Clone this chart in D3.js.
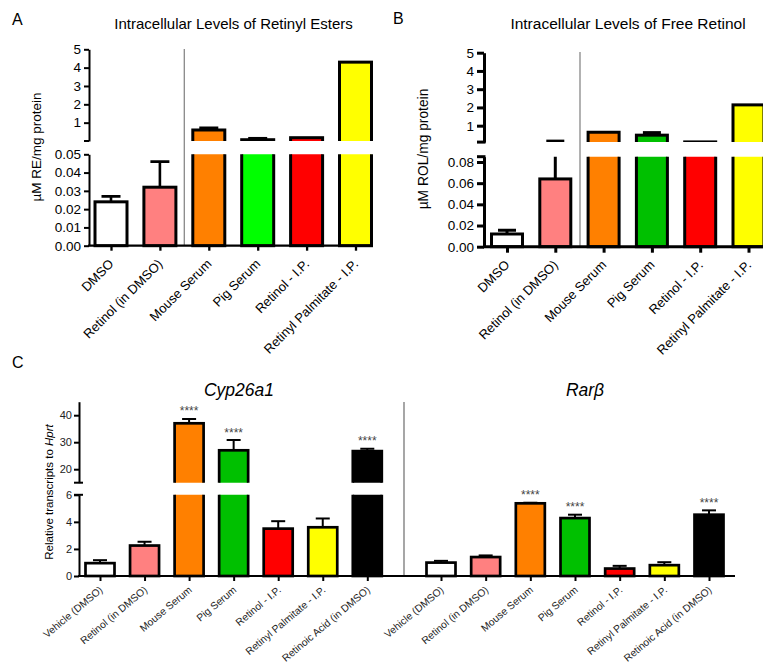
<!DOCTYPE html>
<html><head><meta charset="utf-8">
<script src="https://cdn.jsdelivr.net/npm/d3@7"></script>
<style>body{margin:0;background:#fff}svg{display:block;font-family:"Liberation Sans",Arial,Helvetica,sans-serif}</style>
</head><body><svg id="chart" width="763" height="669"></svg>
<script>
// ---------- data ----------
const catsAB = ["DMSO","Retinol (in DMSO)","Mouse Serum","Pig Serum","Retinol - I.P.","Retinyl Palmitate - I.P."];
const colorsA = ["#ffffff","#ff8080","#ff8000","#00ff00","#ff0000","#ffff00"];
const colorsB = ["#ffffff","#ff8080","#ff8000","#00c000","#ff0000","#ffff00"];
const reMean = [0.024,0.032,0.6,0.07,0.18,4.3];
const reSem  = [0.003,0.014,0.12,0.08,0,0];
const rolMean = [0.012,0.064,0.64,0.48,0.11,2.14];
const rolSem  = [0.0035,0.09,0,0.14,0,0];
const reTicksLo = [0,0.01,0.02,0.03,0.04,0.05];
const reTicksHi = [1,2,3,4,5];
const rolTicksLo = [0,0.02,0.04,0.06,0.08];
const rolTicksHi = [1,2,3,4,5];

const catsC = ["Vehicle (DMSO)","Retinol (in DMSO)","Mouse Serum","Pig Serum","Retinol - I.P.","Retinyl Palmitate - I.P.","Retinoic Acid (in DMSO)"];
const colorsC = ["#ffffff","#ff8080","#ff8000","#00c000","#ff0000","#ffff00","#000000"];
const cypMean = [0.95,2.25,37.0,27.0,3.5,3.6,26.7];
const cypSem  = [0.22,0.28,1.6,3.8,0.55,0.65,0.9];
const cypSig  = ["","","****","****","","","****"];
const rarMean = [0.99,1.4,5.37,4.28,0.55,0.8,4.53];
const rarSem  = [0.13,0.12,0.05,0.25,0.2,0.22,0.32];
const rarSig  = ["","","****","****","","","****"];
const cTicksLo = [0,2,4,6];
const cTicksHi = [20,30,40];

// ---------- helpers ----------
const svg = d3.select("#chart");
const defs = svg.append("defs");
const W = 763, H = 669;

function drawBars(o) {
  defs.append("clipPath").attr("id", o.id+"lo").append("rect")
    .attr("x",0).attr("y",o.yLo(o.lMax)).attr("width",W).attr("height",H);
  const segs = [{y:o.yLo, clip:o.id+"lo", show:()=>true}];
  if (o.yHi) {
    defs.append("clipPath").attr("id", o.id+"hi").append("rect")
      .attr("x",0).attr("y",0).attr("width",W).attr("height",o.hiBottom);
    segs.push({y:o.yHi, clip:o.id+"hi", show:v=>v>o.lMax});
  }
  const data = o.cats.map((c,i)=>({c, v:o.means[i], s:o.sems[i], e:o.means[i]+o.sems[i], col:o.colors[i], sig:o.sig?o.sig[i]:""}));
  segs.forEach(seg=>{
    const sg = svg.append("g").attr("clip-path",`url(#${seg.clip})`);
    const eb = data.filter(d=>d.s>0 && seg.show(d.e));
    sg.selectAll("line.stem").data(eb).join("line")
      .attr("x1",d=>o.x(d.c)).attr("x2",d=>o.x(d.c))
      .attr("y1",d=>seg.y(d.v)).attr("y2",d=>seg.y(d.e))
      .attr("stroke","#000").attr("stroke-width",o.esw);
    sg.selectAll("line.cap").data(eb).join("line")
      .attr("x1",d=>o.x(d.c)-o.capW/2).attr("x2",d=>o.x(d.c)+o.capW/2)
      .attr("y1",d=>seg.y(d.e)).attr("y2",d=>seg.y(d.e))
      .attr("stroke","#000").attr("stroke-width",o.esw);
    sg.selectAll("rect").data(data.filter(d=>seg.show(d.v))).join("rect")
      .attr("x",d=>o.x(d.c)-o.barW/2).attr("width",o.barW)
      .attr("y",d=>seg.y(d.v)).attr("height",d=>Math.max(0,o.axisY-seg.y(d.v)))
      .attr("fill",d=>d.col).attr("stroke","#000").attr("stroke-width",o.sw);
  });
  // significance marks (not clipped)
  const ys = d => (o.yHi && d.e > o.lMax) ? o.yHi(d.e) : o.yLo(d.e);
  svg.append("g").selectAll("text").data(data.filter(d=>d.sig)).join("text")
    .attr("x",d=>o.x(d.c)).attr("y",d=>ys(d)-3.5)
    .attr("text-anchor","middle").attr("font-size",12).attr("fill","#444").text(d=>d.sig);
}

function yAxis(o) {
  const g = svg.append("g").attr("transform",`translate(${o.x},0)`);
  [{s:o.yLo,t:o.tLo},{s:o.yHi,t:o.tHi}].forEach(a=>{
    const ag = g.append("g").call(d3.axisLeft(a.s).tickValues(a.t).tickFormat(o.fmt(a))
      .tickSize(o.ts).tickSizeOuter(0).tickPadding(o.pad));
    ag.select(".domain").attr("stroke","#000").attr("stroke-width",o.w);
    ag.selectAll(".tick line").attr("stroke","#000").attr("stroke-width",o.w);
    ag.selectAll(".tick text").attr("font-size",o.fs).attr("fill",o.col||"#000")
      .attr("font-family",'"Liberation Sans",Arial,sans-serif');
  });
  o.caps.forEach(c=>{
    g.append("line").attr("x1",-c.l).attr("x2",c.r).attr("y1",c.y).attr("y2",c.y)
      .attr("stroke","#000").attr("stroke-width",o.w);
  });
}

function xAxis(o) {
  const g = svg.append("g").attr("transform",`translate(0,${o.y})`);
  g.append("line").attr("x1",o.x0).attr("x2",o.x1).attr("stroke","#000").attr("stroke-width",o.w);
  o.scales.forEach(sc=>{
    const ag = g.append("g").call(d3.axisBottom(sc).tickSize(o.ts).tickSizeOuter(0));
    ag.select(".domain").remove();
    ag.selectAll(".tick line").attr("stroke","#000").attr("stroke-width",o.w);
    ag.selectAll(".tick text").attr("font-size",o.fs).attr("fill",o.col||"#000")
      .attr("font-family",'"Liberation Sans",Arial,sans-serif')
      .attr("x",0).attr("y",0).attr("dy",0).attr("text-anchor","end")
      .attr("transform",`translate(${o.dx},${o.dy}) rotate(${o.rot})`);
  });
}

function text(x,y,t,fs,opts={}) {
  const el = svg.append("text").attr("x",x).attr("y",y).attr("font-size",fs)
    .attr("text-anchor",opts.anchor||"start").attr("fill",opts.fill||"#000").text(t);
  if (opts.italic) el.attr("font-style","italic");
  return el;
}

// ---------- Panel A ----------
const xA = d3.scalePoint().domain(catsAB).range([111,355.5]);
const yALo = d3.scaleLinear().domain([0,0.05]).range([245.7,154.3]);
const yAHi = d3.scaleLinear().domain([0,5]).range([141,49.3]);
svg.append("line").attr("x1",184.3).attr("x2",184.3).attr("y1",49).attr("y2",245.7)
  .attr("stroke","#888").attr("stroke-width",1.3);
drawBars({id:"A",x:xA,cats:catsAB,means:reMean,sems:reSem,colors:colorsA,yLo:yALo,yHi:yAHi,
  lMax:0.05,hiBottom:141,axisY:245.7,barW:32,capW:19,sw:3,esw:2.6});
yAxis({x:89,yLo:yALo,yHi:yAHi,tLo:reTicksLo,tHi:reTicksHi,fmt:a=>a.s===yALo?d3.format(".2f"):d3.format("d"),
  ts:5,pad:3,w:2,fs:13.5,caps:[{y:141,l:5,r:0}]});
xAxis({y:245.7,x0:88,x1:373,scales:[xA],ts:5,w:2.3,fs:13,dx:3,dy:19,rot:-45});
text(12,24.5,"A",16);
text(233.5,29,"Intracellular Levels of Retinyl Esters",15,{anchor:"middle"});
text(0,0,"µM RE/mg protein",13.5,{anchor:"middle"}).attr("transform","translate(41,147) rotate(-90)");

// ---------- Panel B ----------
const xB = d3.scalePoint().domain(catsAB).range([507,748.5]);
const yBLo = d3.scaleLinear().domain([0,0.085]).range([246.7,156.7]);
const yBHi = d3.scaleLinear().domain([0.1,5]).range([142.1,52.7]);
svg.append("line").attr("x1",580).attr("x2",580).attr("y1",52).attr("y2",246.7)
  .attr("stroke","#888").attr("stroke-width",1.3);
drawBars({id:"B",x:xB,cats:catsAB,means:rolMean,sems:rolSem,colors:colorsB,yLo:yBLo,yHi:yBHi,
  lMax:0.085,hiBottom:142.1,axisY:246.7,barW:31,capW:18,sw:3,esw:3});
yAxis({x:484,yLo:yBLo,yHi:yBHi,tLo:rolTicksLo,tHi:rolTicksHi,fmt:a=>a.s===yBLo?d3.format(".2f"):d3.format("d"),
  ts:7,pad:3,w:3,fs:13.5,caps:[{y:142.1,l:7,r:1.5},{y:156.7,l:7,r:1.5}]});
xAxis({y:246.7,x0:483,x1:763,scales:[xB],ts:6,w:3,fs:13,dx:3,dy:19,rot:-45});
text(393,23.5,"B",16);
text(628,29,"Intracellular Levels of Free Retinol",15.5,{anchor:"middle"});
text(0,0,"µM ROL/mg protein",13.8,{anchor:"middle"}).attr("transform","translate(428,149) rotate(-90)");

// ---------- Panel C ----------
const xCL = d3.scalePoint().domain(catsC).range([100,367.3]);
const xCR = d3.scalePoint().domain(catsC).range([441,709]);
const yCLo = d3.scaleLinear().domain([0,6]).range([576,494.8]);
const yCHi = d3.scaleLinear().domain([15,45]).range([482.7,401.7]);
svg.append("line").attr("x1",404).attr("x2",404).attr("y1",402).attr("y2",576)
  .attr("stroke","#777").attr("stroke-width",1.3);
drawBars({id:"CL",x:xCL,cats:catsC,means:cypMean,sems:cypSem,colors:colorsC,sig:cypSig,yLo:yCLo,yHi:yCHi,
  lMax:6,hiBottom:482.7,axisY:576,barW:29,capW:14,sw:2.7,esw:2});
drawBars({id:"CR",x:xCR,cats:catsC,means:rarMean,sems:rarSem,colors:colorsC,sig:rarSig,yLo:yCLo,yHi:null,
  lMax:6,hiBottom:0,axisY:576,barW:29,capW:14,sw:2.7,esw:2});
yAxis({x:79,yLo:yCLo,yHi:yCHi,tLo:cTicksLo,tHi:cTicksHi,fmt:()=>d3.format("d"),
  ts:5,pad:2,w:2,fs:11,col:"#222",caps:[{y:482.7,l:5,r:4},{y:494.8,l:5,r:4}]});
xAxis({y:576,x0:78,x1:735,scales:[xCL,xCR],ts:5,w:2,fs:10.3,col:"#222",dx:3,dy:15,rot:-40});
text(12,368,"C",16);
text(239,396,"Cyp26a1",17.5,{anchor:"middle",italic:true});
text(585,396,"Rarβ",17.5,{anchor:"middle",italic:true});
const yl = text(0,0,"Relative transcripts to ",11.5,{anchor:"middle"}).attr("transform","translate(53,492) rotate(-90)");
yl.append("tspan").attr("font-style","italic").text("Hprt");
</script>
</body></html>
